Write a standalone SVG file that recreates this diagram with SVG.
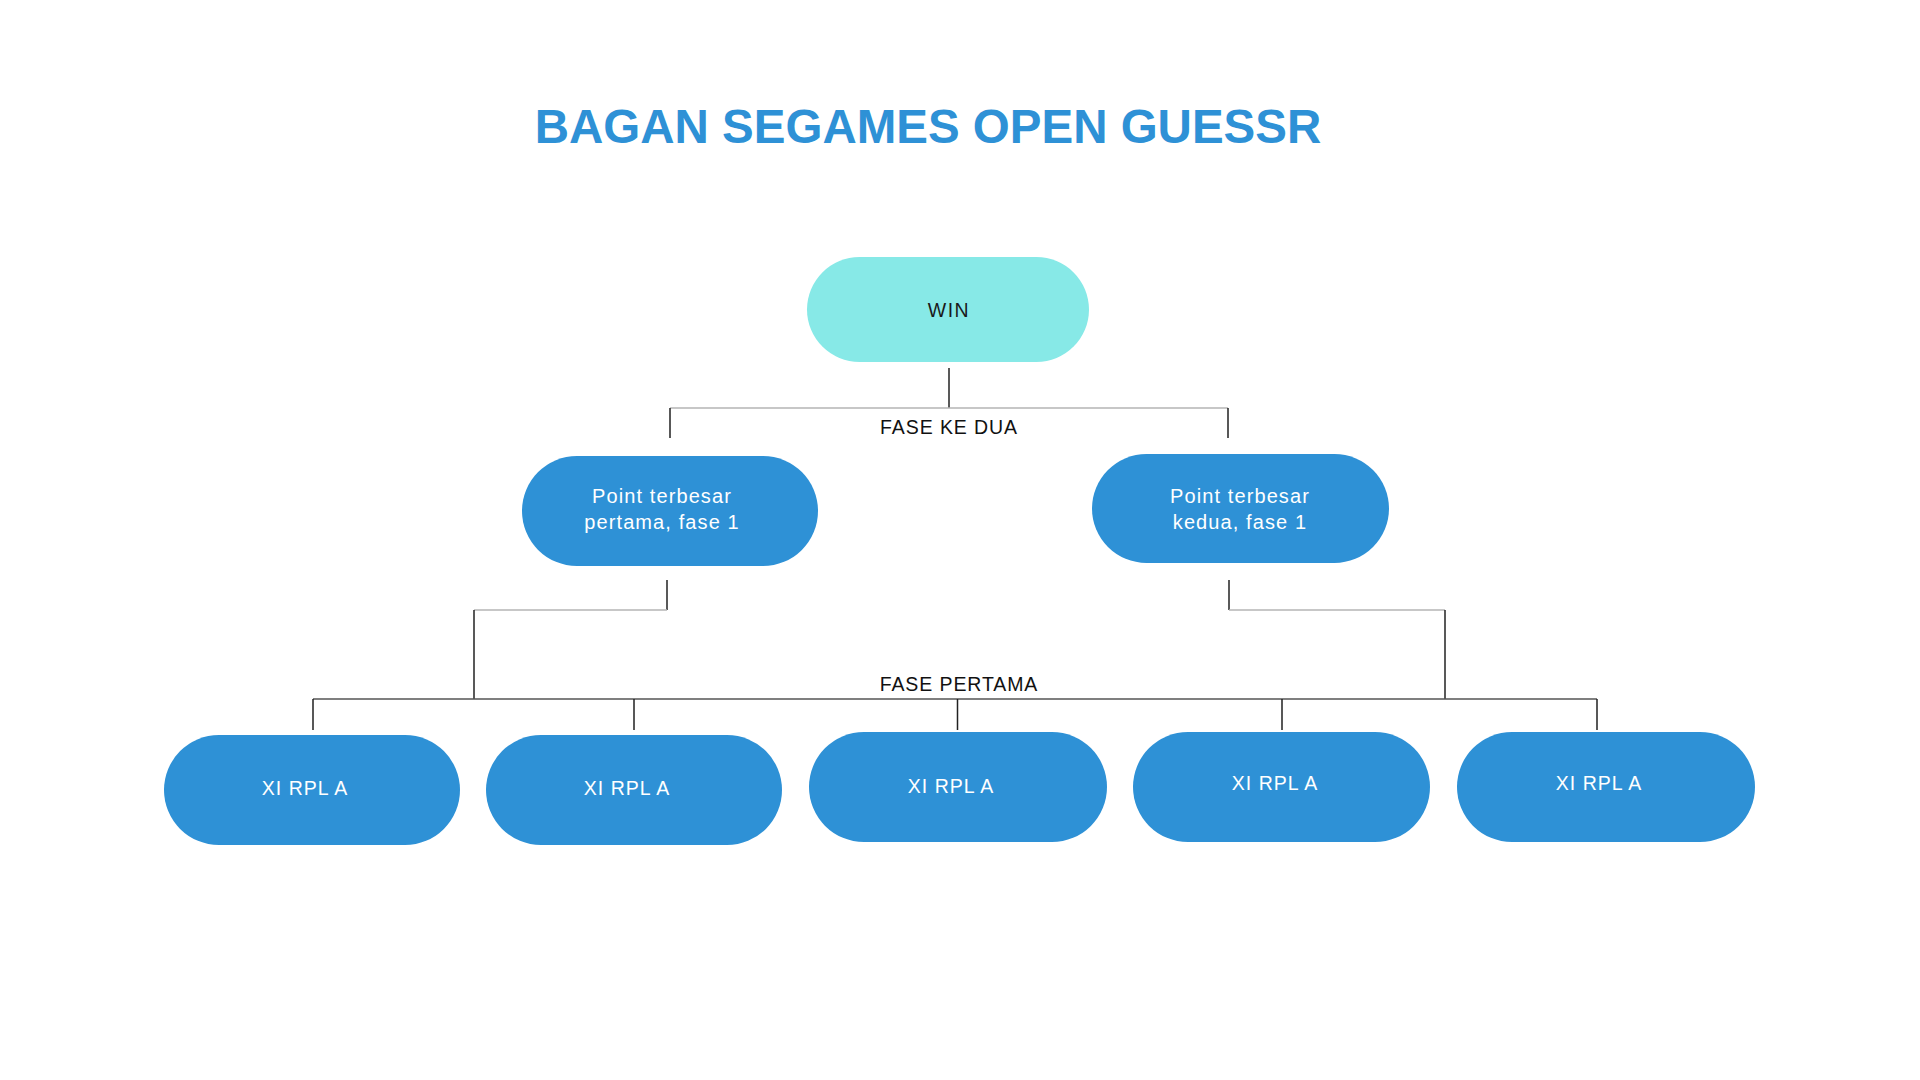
<svg xmlns="http://www.w3.org/2000/svg" width="1920" height="1080" viewBox="0 0 1920 1080">
<style>
.title{font-family:"Liberation Sans",Arial,sans-serif;font-weight:bold;font-size:47.5px;fill:#2E91D6}
.node{fill:#2E91D6}
.win{fill:#87E9E7}
.t{font-family:"Liberation Sans",Arial,sans-serif;font-size:19.5px;fill:#ffffff;text-anchor:middle}
.p{font-size:20px;letter-spacing:1.1px}
.x{letter-spacing:1px}
.dark{fill:#1a1a1a}
.lbl{font-family:"Liberation Sans",Arial,sans-serif;font-size:19.5px;fill:#111111;text-anchor:middle;letter-spacing:0.9px}
.v{stroke:#222222;stroke-width:1.5;fill:none}
.h{stroke:#b5b5b5;stroke-width:1.5;fill:none}
.hd{stroke:#555555;stroke-width:1.5;fill:none}
</style>
<rect width="1920" height="1080" fill="#ffffff"/>
<text class="title" x="928" y="143.3" text-anchor="middle">BAGAN SEGAMES OPEN GUESSR</text>

<g id="connectors">
<path class="v" d="M949 368V408"/>
<path class="h" d="M670 408H1228"/>
<path class="v" d="M670 408V438M1228 408V438"/>
<path class="v" d="M667 580V610"/>
<path class="h" d="M667 610H474"/>
<path class="v" d="M474 610V699"/>
<path class="v" d="M1229 580V610"/>
<path class="h" d="M1229 610H1445"/>
<path class="v" d="M1445 610V699"/>
<path class="hd" d="M313 699H1597"/>
<path class="v" d="M313 699V730M634 699V730M957.5 699V730M1282 699V730M1597 699V730"/>
</g>
<text class="lbl" x="949" y="434">FASE KE DUA</text>
<text class="lbl" x="959" y="690.7">FASE PERTAMA</text>

<g id="win">
<rect class="win" x="807" y="257" width="282" height="105" rx="52.5"/>
<text class="t dark" x="949" y="316.7" font-size="18.5" style="letter-spacing:1.5px">WIN</text>
</g>
<g id="point-pertama">
<rect class="node" x="522" y="456" width="296" height="110" rx="55"/>
<text class="t p" x="662" y="503.3">Point terbesar</text>
<text class="t p" x="662" y="529.3">pertama, fase 1</text>
</g>
<g id="point-kedua">
<rect class="node" x="1092" y="454" width="297" height="109" rx="54.5"/>
<text class="t p" x="1240" y="503.3">Point terbesar</text>
<text class="t p" x="1240" y="529.3">kedua, fase 1</text>
</g>
<g id="team1">
<rect class="node" x="164" y="735" width="296" height="110" rx="55"/>
<text class="t x" x="305" y="795">XI RPL A</text>
</g>
<g id="team2">
<rect class="node" x="486" y="735" width="296" height="110" rx="55"/>
<text class="t x" x="627" y="795">XI RPL A</text>
</g>
<g id="team3">
<rect class="node" x="809" y="732" width="298" height="110" rx="55"/>
<text class="t x" x="951" y="793">XI RPL A</text>
</g>
<g id="team4">
<rect class="node" x="1133" y="732" width="297" height="110" rx="55"/>
<text class="t x" x="1275" y="790">XI RPL A</text>
</g>
<g id="team5">
<rect class="node" x="1457" y="732" width="298" height="110" rx="55"/>
<text class="t x" x="1599" y="790">XI RPL A</text>
</g>
</svg>
